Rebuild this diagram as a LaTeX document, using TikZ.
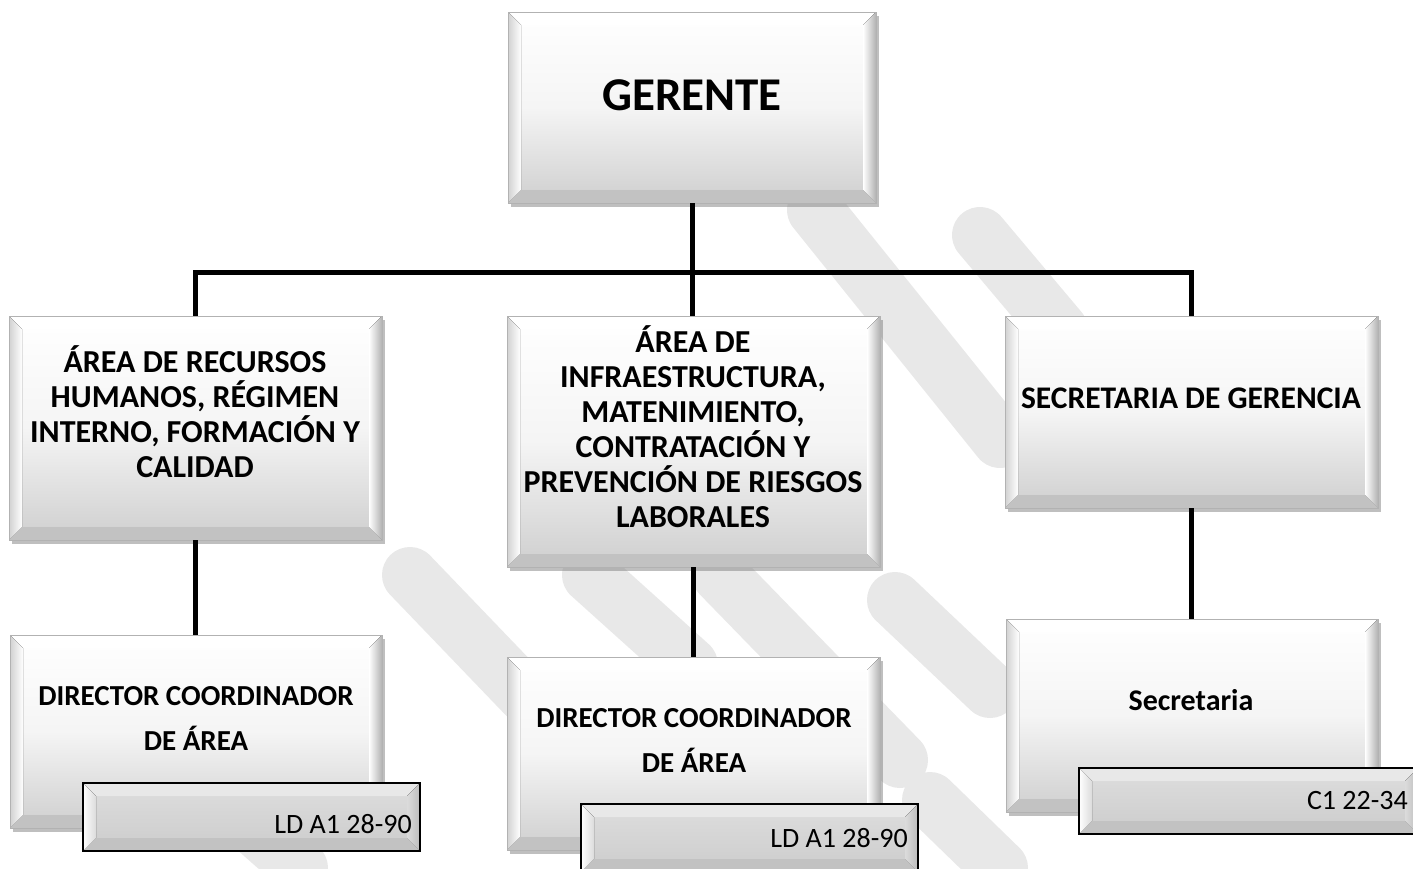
\documentclass[tikz,border=0pt]{standalone}
\usepackage{fontspec}
\setmainfont{Carlito}
\usetikzlibrary{shadows}
\newcommand\bvlsides[6]{% inset, top, left-a, left-b, right-a, right-b / bottom in #6
  \fill[#2] (path picture bounding box.north west) -- (path picture bounding box.north east)
     -- ([shift={(-#1,-#1)}]path picture bounding box.north east) -- ([shift={(#1,-#1)}]path picture bounding box.north west) -- cycle;
  \fill[left color=#3, right color=#4] (path picture bounding box.north west) -- ([shift={(#1,-#1)}]path picture bounding box.north west)
     -- ([shift={(#1,#1)}]path picture bounding box.south west) -- (path picture bounding box.south west) -- cycle;
  \fill[left color=#4, right color=#5] (path picture bounding box.north east) -- ([shift={(-#1,-#1)}]path picture bounding box.north east)
     -- ([shift={(-#1,#1)}]path picture bounding box.south east) -- (path picture bounding box.south east) -- cycle;
  \fill[#6] (path picture bounding box.south west) -- ([shift={(#1,#1)}]path picture bounding box.south west)
     -- ([shift={(-#1,#1)}]path picture bounding box.south east) -- (path picture bounding box.south east) -- cycle;
}
\tikzset{
  bevbox/.style n args={2}{draw=gray!60, line width=0.9pt, inner sep=0pt,
    minimum width=#1, minimum height=#2,
    top color=white, bottom color=black!19, middle color=black!4,
    drop shadow={shadow xshift=3pt, shadow yshift=-4pt, opacity=0.45, fill=black!55},
    path picture={\bvlsides{13pt}{white}{black!18}{white}{black!30}{black!24}}},
  lblbox/.style n args={2}{draw=black, line width=2pt, inner sep=0pt,
    minimum width=#1, minimum height=#2,
    top color=black!13, bottom color=black!20,
    path picture={\bvlsides{13pt}{black!9}{white}{black!14}{black!26}{black!24}}},
  ttl/.style={font=\bfseries\fontsize{31}{35}\selectfont, align=flush center, text width=390pt, inner sep=0pt, anchor=base},
  lbl/.style={font=\fontsize{28}{34}\selectfont, inner sep=0pt, anchor=base east},
  conn/.style={line width=5pt, black},
  wm/.style={line width=56pt, line cap=round, black!9},
}
\begin{document}
\begin{tikzpicture}[x=1pt, y=-1pt]
\fill[white] (0,0) rectangle (1413,868);
\useasboundingbox (0,0) rectangle (1413,868);
% faint watermark bands
\draw[wm] (815,210) -- (1000,440);
\draw[wm] (980,235) -- (1060,330);
\draw[wm] (410,575) -- (530,700);
\draw[wm] (590,575) -- (690,665);
\draw[wm] (720,575) -- (900,760);
\draw[wm] (895,600) -- (990,690);
\draw[wm] (240,815) -- (300,868);
\draw[wm] (930,800) -- (1000,868);
% coordinates of the bar
\coordinate (jM) at (693,272);
% boxes
\node[bevbox={368pt}{191pt}] (ger) at (692,107.5) {};
\node[bevbox={373pt}{224pt}] (a1) at (195.5,428) {};
\node[bevbox={373pt}{251pt}] (a2) at (693.5,441.5) {};
\node[bevbox={373pt}{192pt}] (a3) at (1191.5,412) {};
\node[bevbox={372pt}{193pt}] (d1) at (196,731.5) {};
\node[bevbox={373pt}{193pt}] (d2) at (693.5,753.5) {};
\node[bevbox={372pt}{193pt}] (s) at (1192,715.5) {};
% connectors
\draw[conn] (ger.south) -- (ger.south |- a2.north);
\draw[conn] (a1.north) -- (a1.north |- jM) -- (a3.north |- jM) -- (a3.north);
\draw[conn] (a1.south) -- (a1.south |- d1.north);
\draw[conn] (a2.south) -- (a2.south |- d2.north);
\draw[conn] (a3.south) -- (a3.south |- s.north);
% label boxes
\node[lblbox={337pt}{68pt}] (l1) at (251.5,817) {};
\node[lblbox={337pt}{68pt}] (l2) at (749.5,838) {};
\node[lblbox={339pt}{66pt}] (l3) at (1248.5,801) {};
% texts
\node[ttl, font=\bfseries\fontsize{47}{56}\selectfont] (tger) at (692,110) {GERENTE};
\node[ttl, font=\bfseries\fontsize{32}{35}\selectfont] (ta1) at (195,372) {ÁREA DE RECURSOS\\HUMANOS, RÉGIMEN\\INTERNO, FORMACIÓN Y\\CALIDAD};
\node[ttl, font=\bfseries\fontsize{32}{35}\selectfont] (ta2) at (693,352) {ÁREA DE\\INFRAESTRUCTURA,\\MATENIMIENTO,\\CONTRATACIÓN Y\\PREVENCIÓN DE RIESGOS\\LABORALES};
\node[ttl, font=\bfseries\fontsize{31.5}{35}\selectfont] (ta3) at (1191,408) {SECRETARIA DE GERENCIA};
\node[ttl, font=\bfseries\fontsize{29}{45}\selectfont] (td1) at (196,705) {DIRECTOR COORDINADOR\\DE ÁREA};
\node[ttl, font=\bfseries\fontsize{29}{45}\selectfont] (td2) at (694,727) {DIRECTOR COORDINADOR\\DE ÁREA};
\node[ttl, font=\bfseries\fontsize{30}{35}\selectfont] (ts) at (1191,710) {Secretaria};
\node[lbl] (tl1) at (412,833) {LD A1 28-90};
\node[lbl] (tl2) at (908,847) {LD A1 28-90};
\node[lbl] (tl3) at (1408,809) {C1 22-34};
\end{tikzpicture}
\end{document}
